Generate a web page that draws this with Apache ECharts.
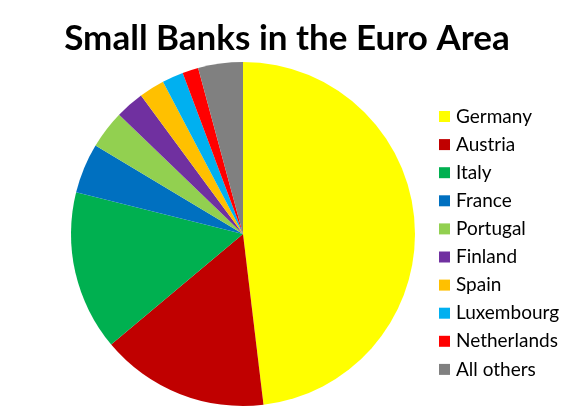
<!DOCTYPE html>
<html><head><meta charset="utf-8">
<script src="https://cdn.jsdelivr.net/npm/echarts@6/dist/echarts.min.js"></script>
<style>html,body{margin:0;padding:0;background:#fff}#c{width:574px;height:420px}</style>
</head><body><div id="c"></div>
<script>
const categories = ["Germany","Austria","Italy","France","Portugal","Finland","Spain","Luxembourg","Netherlands","All others"];
const values = [48.1,15.8,15.0,4.7,3.6,2.7,2.4,2.0,1.5,4.2];
const colors = ["#FFFF00","#C00000","#00B050","#0070C0","#92D050","#7030A0","#FFC000","#00B0F0","#FF0000","#808080"];
const chart = echarts.init(document.getElementById('c'), null, {renderer:'canvas'});
chart.setOption({
  animation:false,
  backgroundColor:'#fff',
  title:{text:'Small Banks in the Euro Area',left:'center',top:16,
    textStyle:{fontFamily:'Lato',fontWeight:'bold',fontSize:35,color:'#000'}},
  legend:{orient:'vertical',left:434,top:101.5,itemWidth:11,itemHeight:11,itemGap:8.1,
    icon:'rect',textStyle:{fontFamily:'Lato',fontSize:19,color:'#000',lineHeight:20,padding:[0,0,0,1]},
    data:categories},
  series:[{type:'pie',center:[243,234],radius:172,startAngle:90,clockwise:true,
    label:{show:false},labelLine:{show:false},
    itemStyle:{borderWidth:0},
    data:categories.map((c,i)=>({name:c,value:values[i],itemStyle:{color:colors[i]}}))}]
});
</script></body></html>
